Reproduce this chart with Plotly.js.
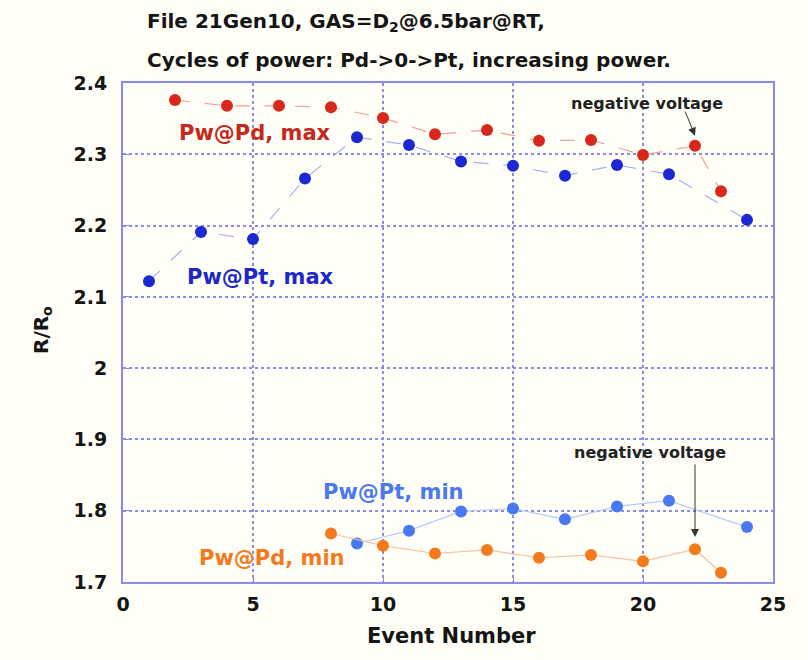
<!DOCTYPE html>
<html><head><meta charset="utf-8">
<script src="https://cdn.plot.ly/plotly-3.0.1.min.js"></script>
<style>html,body{margin:0;padding:0;background:#fffff7;}</style>
</head><body>
<div id="chart" style="width:808px;height:660px;"></div>
<script>
var pdMaxX = [2, 4, 6, 8, 10, 12, 14, 16, 18, 20, 22, 23];
var pdMaxY = [2.376, 2.368, 2.368, 2.366, 2.351, 2.328, 2.334, 2.319, 2.320, 2.299, 2.312, 2.248];
var ptMaxX = [1, 3, 5, 7, 9, 11, 13, 15, 17, 19, 21, 24];
var ptMaxY = [2.122, 2.191, 2.181, 2.266, 2.324, 2.313, 2.290, 2.284, 2.270, 2.285, 2.272, 2.208];
var ptMinX = [9, 11, 13, 15, 17, 19, 21, 24];
var ptMinY = [1.754, 1.772, 1.799, 1.803, 1.788, 1.806, 1.814, 1.777];
var pdMinX = [8, 10, 12, 14, 16, 18, 20, 22, 23];
var pdMinY = [1.768, 1.751, 1.740, 1.745, 1.734, 1.738, 1.729, 1.746, 1.713];

function tr(x, y, col, lcol, dash) {
  return {x: x, y: y, type: 'scatter', mode: 'lines+markers',
    marker: {color: col, size: 12}, line: {color: lcol, width: 1.2, dash: dash}, showlegend: false};
}
var data = [
  tr(pdMaxX, pdMaxY, '#d8281c', '#f2a09a', 'longdash'),
  tr(ptMaxX, ptMaxY, '#1c28d2', '#a8b0f0', 'longdash'),
  tr(ptMinX, ptMinY, '#4a78f0', '#b8c8f8', 'solid'),
  tr(pdMinX, pdMinY, '#f47a1e', '#f8c0a0', 'solid')
];
var FAM = 'DejaVu Sans, Verdana, sans-serif';
function lab(x, y, t, col, sz) {
  return {x: x, y: y, xref: 'x', yref: 'y', text: t, showarrow: false,
    font: {family: FAM, weight: 'bold', size: sz, color: col}};
}
function plab(x, y, t, sz, xa, ang) {
  return {x: x, y: y, xref: 'paper', yref: 'paper', text: t, showarrow: false,
    xanchor: xa, yanchor: 'middle', textangle: ang || 0,
    font: {family: FAM, weight: 'bold', size: sz, color: '#151515'}};
}
var layout = {
  width: 808, height: 660,
  paper_bgcolor: '#fffff7', plot_bgcolor: '#fffff7',
  margin: {l: 123, r: 35, t: 83, b: 78},
  xaxis: {range: [0, 25], dtick: 5, tick0: 0,
    showgrid: true, gridcolor: '#8c8ce8', griddash: 'dot', gridwidth: 1.5,
    showline: true, mirror: true, linecolor: '#8a8ae8', linewidth: 2,
    ticks: 'inside', ticklen: 6, tickcolor: '#8a8ae8', zeroline: false,
    ticklabelstandoff: 4,
    tickfont: {family: FAM, weight: 'bold', size: 19, color: '#151515'}},
  yaxis: {range: [1.7, 2.4], dtick: 0.1, tick0: 1.7,
    showgrid: true, gridcolor: '#8c8ce8', griddash: 'dot', gridwidth: 1.5,
    showline: true, mirror: true, linecolor: '#8a8ae8', linewidth: 2,
    ticks: 'inside', ticklen: 6, tickcolor: '#8a8ae8', zeroline: false,
    ticklabelstandoff: 10,
    tickfont: {family: FAM, weight: 'bold', size: 19, color: '#151515'}},
  annotations: [
    plab(0.034, 1.122, 'File 21Gen10, GAS=D<sub>2</sub>@6.5bar@RT,', 20, 'left'),
    plab(0.034, 1.046, 'Cycles of power: Pd->0->Pt, increasing power.', 20, 'left'),
    plab(0.506, -0.108, 'Event Number', 21, 'center'),
    plab(-0.1246, 0.505, 'R/R<sub>o</sub>', 20, 'center', -90),
    lab(5.08, 2.330, 'Pw@Pd, max', '#c8281c', 21),
    lab(5.27, 2.128, 'Pw@Pt, max', '#1c28c8', 21),
    lab(10.4, 1.826, 'Pw@Pt, min', '#4a78f0', 21),
    lab(5.73, 1.734, 'Pw@Pd, min', '#f47a1e', 21),
    lab(20.15, 2.371, 'negative voltage', '#222', 16),
    lab(20.27, 1.882, 'negative voltage', '#222', 16),
    {x: 22, y: 2.326, xref: 'x', yref: 'y', ax: 21.6, ay: 2.362, axref: 'x', ayref: 'y',
     text: '', showarrow: true, arrowhead: 2, arrowsize: 1.6, arrowwidth: 1, arrowcolor: '#333'},
    {x: 22, y: 1.763, xref: 'x', yref: 'y', ax: 22, ay: 1.867, axref: 'x', ayref: 'y',
     text: '', showarrow: true, arrowhead: 2, arrowsize: 1.6, arrowwidth: 1, arrowcolor: '#333'}
  ]
};
Plotly.newPlot('chart', data, layout, {displayModeBar: false});
</script>
</body></html>
